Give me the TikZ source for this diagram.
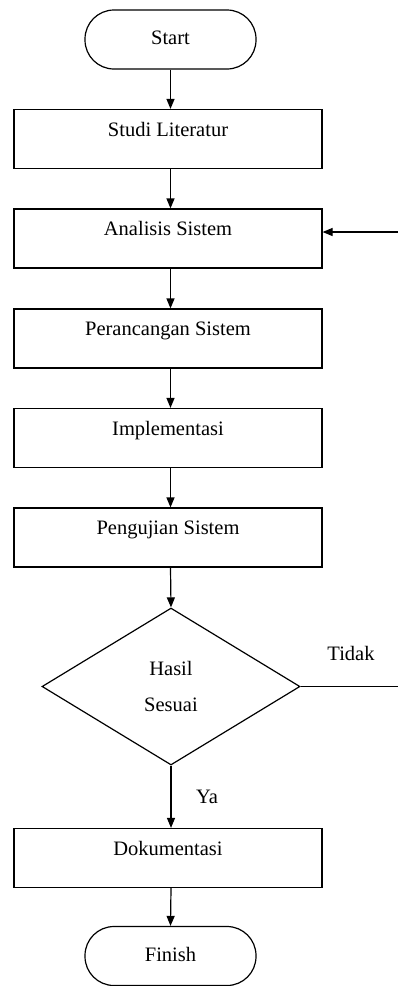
\documentclass[tikz,border=0pt]{standalone}
\usepackage{fontspec}
\setmainfont{Liberation Serif}
\usetikzlibrary{arrows.meta,shapes.geometric}
\tikzset{
  base/.style={draw=black, line width=1.2pt, font=\fontsize{20.5}{24}\selectfont, inner sep=0pt},
  term/.style={base, rectangle, rounded corners=29pt, minimum width=171pt, minimum height=59pt, text height=14pt, text depth=4pt},
  procbox/.style={base, rectangle, minimum width=308pt, minimum height=59pt, text height=14pt, text depth=20pt},
  decision/.style={base, diamond, minimum width=258pt, minimum height=157pt, align=center},
  lbl/.style={font=\fontsize{20.5}{24}\selectfont, inner sep=0pt},
  flow/.style={line width=1.2pt, -{Triangle[length=10pt,width=8pt]}},
  plain/.style={line width=1.2pt}
}
\begin{document}
\begin{tikzpicture}[x=1pt,y=-1pt]
\useasboundingbox (0,0) rectangle (398,986);
\node[term] (start) at (170.5,39.5) {Start};
\node[procbox] (studi) at (168,139) {Studi Literatur};
\node[procbox] (analisis) at (168,238.5) {Analisis Sistem};
\node[procbox] (rancang) at (168,338.5) {Perancangan Sistem};
\node[procbox] (impl) at (168,438) {Implementasi};
\node[procbox] (uji) at (168,537.5) {Pengujian Sistem};
\node[decision] (hasil) at (171,686.5) {Hasil\\[12pt]Sesuai};
\node[procbox] (dok) at (168,858) {Dokumentasi};
\node[term] (finish) at (170.5,956) {Finish};
\node[lbl] (tidak) at (351,653) {Tidak};
\node[lbl] (ya) at (207,797) {Ya};
\coordinate (edge) at (400,686.5);
\draw[flow] (start.south) -- (start.south |- studi.north);
\draw[flow] (start.south |- studi.south) -- (start.south |- analisis.north);
\draw[flow] (start.south |- analisis.south) -- (start.south |- rancang.north);
\draw[flow] (start.south |- rancang.south) -- (start.south |- impl.north);
\draw[flow] (start.south |- impl.south) -- (start.south |- uji.north);
\draw[flow] (start.south |- uji.south) -- (hasil.north);
\draw[flow] (hasil.south) -- (hasil.south |- dok.north);
\draw[flow] (hasil.south |- dok.south) -- (finish.north);
\draw[flow] (hasil.east) -- (edge) |- ([yshift=6.5pt]analisis.east);
\end{tikzpicture}
\end{document}
